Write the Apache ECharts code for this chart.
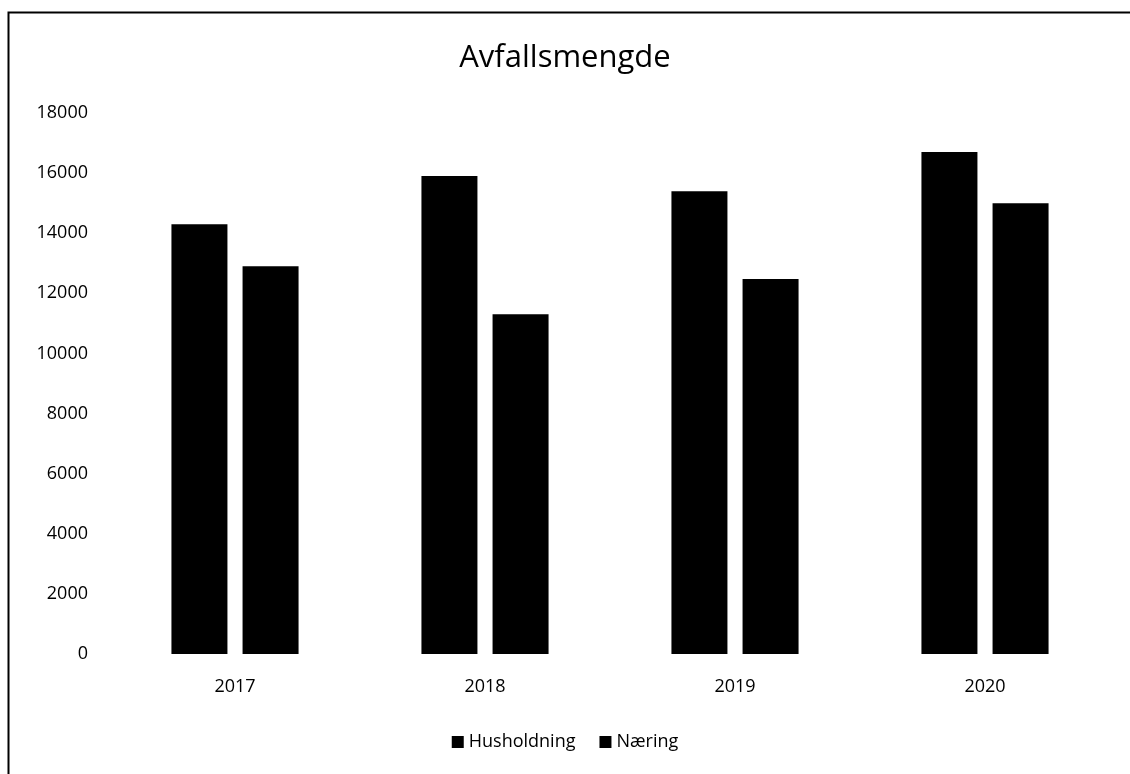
<!DOCTYPE html>
<html>
<head>
<meta charset="utf-8">
<style>html,body{margin:0;padding:0;background:#fff;}#c{width:1130px;height:774px;}</style>
<script src="https://cdn.jsdelivr.net/npm/echarts@6/dist/echarts.min.js"></script>
</head>
<body>
<div id="c"></div>
<script>
const categories = ['2017', '2018', '2019', '2020'];
const husholdning = [14300, 15900, 15400, 16700];
const naering = [12900, 11300, 12480, 15000];
const yTicks = { min: 0, max: 18000, interval: 2000 };

const chart = echarts.init(document.getElementById('c'));
const font = '"Open Sans", "Noto Sans", sans-serif';
chart.setOption({
  backgroundColor: '#fff',
  animation: false,
  graphic: [{
    type: 'rect', left: 6, top: 10, silent: true,
    shape: { width: 1140, height: 800 },
    style: { fill: 'none', stroke: '#000', lineWidth: 2 }
  }],
  title: {
    text: 'Avfallsmengde', left: 'center', top: 38,
    textStyle: { fontFamily: font, fontSize: 31, fontWeight: 'normal', color: '#000' }
  },
  legend: {
    bottom: 18, left: 'center', itemWidth: 12, itemHeight: 12, itemGap: 24,
    icon: 'rect',
    textStyle: { fontFamily: font, fontSize: 18, color: '#000' },
    data: ['Husholdning', 'Næring']
  },
  grid: { left: 110, right: 20, top: 113, bottom: 120, containLabel: false },
  xAxis: {
    type: 'category', data: categories,
    axisLine: { show: false }, axisTick: { show: false },
    axisLabel: { fontFamily: font, fontSize: 18, color: '#000', margin: 24 }
  },
  yAxis: {
    type: 'value', min: yTicks.min, max: yTicks.max, interval: yTicks.interval,
    axisLine: { show: false }, axisTick: { show: false },
    splitLine: { show: false },
    axisLabel: { fontFamily: font, fontSize: 18, color: '#000', margin: 22,
      formatter: v => String(v) }
  },
  series: [
    { name: 'Husholdning', type: 'bar', data: husholdning, barWidth: 56, barGap: '27%',
      itemStyle: { color: '#000' } },
    { name: 'Næring', type: 'bar', data: naering, barWidth: 56, barGap: '27%',
      itemStyle: { color: '#000' } }
  ]
});
</script>
</body>
</html>
